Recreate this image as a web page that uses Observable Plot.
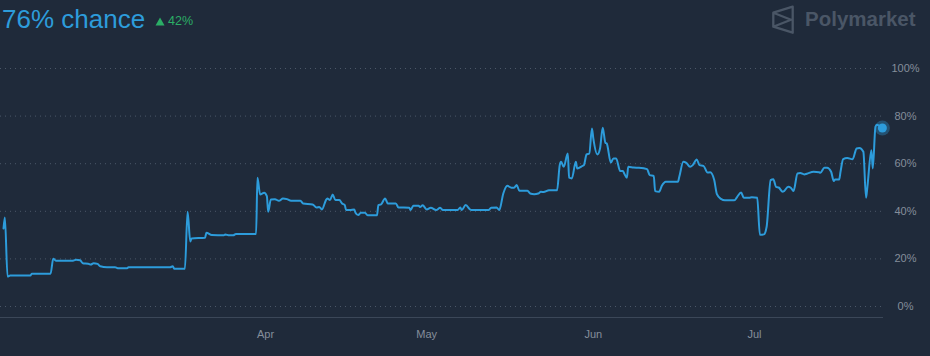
<!DOCTYPE html>
<html>
<head>
<meta charset="utf-8">
<script src="https://cdn.jsdelivr.net/npm/d3@7"></script>
<script src="https://cdn.jsdelivr.net/npm/@observablehq/plot@0.6"></script>
<style>
  html, body { margin: 0; padding: 0; background: #1f2a3a; }
  body { width: 930px; height: 356px; overflow: hidden; font-family: "Liberation Sans", Arial, sans-serif; }
  #header { position: relative; width: 930px; height: 44px; }
  #title { position: absolute; left: 2px; top: 6px; font-size: 26px; line-height: 26px; color: #2d9cdb; white-space: nowrap; }
  #change { position: absolute; left: 155px; top: 14px; font-size: 12.5px; line-height: 14px; color: #2bae66; white-space: nowrap; display: flex; align-items: center; gap: 3px; }
  #logo { position: absolute; left: 770px; top: 4px; width: 30px; height: 32px; }
  #logoText { position: absolute; left: 805px; top: 8px; font-size: 20.5px; line-height: 22px; font-weight: bold; color: #4a5666; white-space: nowrap; }
</style>
</head>
<body>
<div id="header">
  <div id="title"></div>
  <div id="change"><svg width="10" height="9" viewBox="0 0 10 9"><polygon points="5,0.5 9.5,8.5 0.5,8.5" fill="#2bae66"/></svg><span id="changeText"></span></div>
  <svg id="logo" width="30" height="32" viewBox="0 0 30 32">
    <path d="M22.7 2.7 L3.3 8.7 L3.3 22.7 L22.7 28.7 Z M3.3 8.7 L21 15.7 L3.3 22.7" fill="none" stroke="#4a5666" stroke-width="2.3" stroke-linejoin="round"/>
  </svg>
  <div id="logoText"></div>
</div>
<div id="chart"></div>
<script>
const titleText = "76% chance";
const changeText = "42%";
const brandText = "Polymarket";

const dates = [
"2024-02-12T06","2024-02-12T12","2024-02-13T00","2024-02-13T12","2024-02-17T06","2024-02-17T12","2024-02-21T00","2024-02-21T12","2024-02-22T00","2024-02-25T00",
"2024-02-25T18","2024-02-26T12","2024-02-27T00","2024-02-28T00","2024-02-28T12","2024-02-29T00","2024-02-29T18","2024-03-01T06","2024-03-02T12","2024-03-04T00",
"2024-03-04T12","2024-03-06T06","2024-03-06T12","2024-03-14T06","2024-03-14T18","2024-03-15T00","2024-03-17T00","2024-03-17T12","2024-03-18T00","2024-03-18T06",
"2024-03-20T18","2024-03-21T00","2024-03-22T00","2024-03-24T06","2024-03-24T12","2024-03-25T06","2024-03-26T00","2024-03-26T12","2024-03-30T06","2024-03-30T12",
"2024-03-31T00","2024-03-31T18","2024-04-01T06","2024-04-01T12","2024-04-02T00","2024-04-02T18","2024-04-03T12","2024-04-04T06","2024-04-05T00","2024-04-05T18",
"2024-04-07T12","2024-04-08T00","2024-04-09T18","2024-04-10T12","2024-04-11T00","2024-04-11T12","2024-04-12T06","2024-04-12T12","2024-04-13T00","2024-04-13T12",
"2024-04-14T00","2024-04-14T18","2024-04-15T06","2024-04-15T18","2024-04-16T00","2024-04-16T18","2024-04-17T12","2024-04-17T18","2024-04-18T06","2024-04-18T18",
"2024-04-19T12","2024-04-20T00","2024-04-21T18","2024-04-22T00","2024-04-22T12","2024-04-23T06","2024-04-23T18","2024-04-25T06","2024-04-25T18","2024-04-27T18",
"2024-04-28T00","2024-04-28T12","2024-04-29T12","2024-04-29T18","2024-04-30T06","2024-05-01T00","2024-05-01T18","2024-05-02T18","2024-05-03T12","2024-05-04T00",
"2024-05-06T18","2024-05-07T06","2024-05-07T12","2024-05-08T06","2024-05-09T06","2024-05-12T12","2024-05-13T00","2024-05-14T00","2024-05-14T12","2024-05-15T06",
"2024-05-16T00","2024-05-16T18","2024-05-17T06","2024-05-17T18","2024-05-18T06","2024-05-19T18","2024-05-20T06","2024-05-21T00","2024-05-21T18","2024-05-22T06",
"2024-05-22T18","2024-05-23T18","2024-05-25T06","2024-05-25T18","2024-05-26T00","2024-05-26T12","2024-05-27T06","2024-05-27T12","2024-05-28T00","2024-05-28T18",
"2024-05-29T00","2024-05-30T00","2024-05-30T06","2024-05-30T18","2024-05-31T06","2024-05-31T18","2024-06-01T00","2024-06-01T18","2024-06-02T06","2024-06-02T18",
"2024-06-03T06","2024-06-03T12","2024-06-04T06","2024-06-04T18","2024-06-05T06","2024-06-06T00","2024-06-06T12","2024-06-06T18","2024-06-07T06","2024-06-07T12",
"2024-06-08T12","2024-06-09T12","2024-06-11T00","2024-06-11T12","2024-06-12T06","2024-06-12T12","2024-06-13T06","2024-06-13T18","2024-06-14T12","2024-06-16T18",
"2024-06-17T00","2024-06-17T18","2024-06-18T06","2024-06-19T00","2024-06-19T12","2024-06-20T06","2024-06-20T18","2024-06-21T12","2024-06-22T06","2024-06-22T18",
"2024-06-23T12","2024-06-24T00","2024-06-24T18","2024-06-25T12","2024-06-27T06","2024-06-27T18","2024-06-28T12","2024-06-29T00","2024-06-30T00","2024-06-30T12",
"2024-07-01T12","2024-07-02T00","2024-07-02T18","2024-07-03T06","2024-07-04T00","2024-07-04T12","2024-07-05T00","2024-07-05T12","2024-07-06T06","2024-07-06T12",
"2024-07-07T06","2024-07-07T18","2024-07-08T06","2024-07-09T00","2024-07-09T12","2024-07-10T06","2024-07-10T18","2024-07-12T00","2024-07-13T00","2024-07-13T06",
"2024-07-14T00","2024-07-14T12","2024-07-15T06","2024-07-15T18","2024-07-16T00","2024-07-16T18","2024-07-17T00","2024-07-17T12","2024-07-18T06","2024-07-19T06",
"2024-07-20T00","2024-07-20T12","2024-07-21T06","2024-07-21T18","2024-07-22T00","2024-07-22T18","2024-07-23T00","2024-07-23T12","2024-07-23T18","2024-07-24T19"
];

const values = [
32.8,37.4,12.6,13.0,13.0,13.8,13.8,20.1,19.2,19.2,
19.6,19.4,18.2,18.0,17.6,18.2,17.9,16.9,16.5,16.5,
16.1,16.1,16.5,16.5,16.9,15.9,15.9,39.8,27.3,28.6,
28.9,31.0,30.0,29.9,30.3,29.9,29.9,30.5,30.5,54.1,
47.1,47.8,46.4,39.8,45.0,45.1,44.4,45.4,45.1,44.4,
44.4,43.3,42.9,41.6,41.8,40.8,44.7,45.4,44.7,47.1,
44.7,44.7,43.3,42.6,40.5,40.5,40.8,39.4,38.4,39.4,
39.4,38.3,38.3,42.6,42.9,45.4,43.3,43.3,41.6,41.5,
40.5,42.3,42.3,41.8,42.5,40.8,41.5,40.5,41.5,40.5,
40.5,41.6,40.5,42.6,40.5,40.5,41.5,41.6,40.5,47.5,
50.7,49.9,49.9,51.0,48.6,48.6,47.5,47.2,47.5,48.2,
48.1,48.8,48.8,59.4,60.8,58.7,64.3,54.1,53.8,60.8,
58.0,59.1,59.4,63.9,64.3,74.8,70.6,63.9,66.4,75.1,
68.8,68.5,60.5,62.2,62.2,56.9,56.9,55.9,54.1,58.7,
58.4,58.3,57.7,55.2,54.9,48.5,48.2,50.7,52.4,52.4,
54.5,60.8,60.5,58.7,59.4,61.8,59.4,59.1,56.3,56.4,
53.1,47.2,45.2,44.6,44.6,46.0,47.9,45.7,45.7,45.9,
45.7,30.1,30.3,33.5,53.1,53.5,50.3,50.0,48.2,48.5,
50.3,49.9,48.5,55.9,56.1,55.5,55.8,56.6,56.4,56.2,
58.3,58.3,56.6,52.7,53.4,53.4,56.6,61.9,62.4,61.9,
66.4,66.6,65.0,45.7,50.3,65.7,58.0,75.5,76.4,75.0
];

const yTicks = [0, 20, 40, 60, 80, 100];
const xTickDates = ["2024-04-01", "2024-05-01", "2024-06-01", "2024-07-01"];
const xTickLabels = ["Apr", "May", "Jun", "Jul"];

document.getElementById("title").textContent = titleText;
document.getElementById("changeText").textContent = changeText;
document.getElementById("logoText").textContent = brandText;

const data = dates.map((d, i) => ({date: new Date(d + ":00Z"), value: values[i]}));
const last = data[data.length - 1];
const xTicks = xTickDates.map(d => new Date(d + "T00:00Z"));

const lineColor = "#2d9cdb";

const chart = Plot.plot({
  width: 930,
  height: 312,
  marginLeft: 0,
  marginRight: 48,
  marginTop: 24,
  marginBottom: 39,
  style: {background: "transparent", color: "#858e9a", fontFamily: "'Liberation Sans', Arial, sans-serif", fontSize: "11px"},
  x: {type: "utc", domain: [new Date("2024-02-11T16:30Z"), new Date("2024-07-24T19:30Z")]},
  y: {domain: [0, 100], insetBottom: 11},
  marks: [
    Plot.gridY(yTicks, {stroke: "#4b5768", strokeOpacity: 1, strokeDasharray: "1,4"}),
    Plot.frame({anchor: "bottom", stroke: "#3b4758"}),
    Plot.axisX(xTicks, {label: null, tickSize: 0, tickPadding: 13, tickFormat: d => xTickLabels[xTicks.findIndex(t => +t === +d)]}),
    Plot.axisY(yTicks, {anchor: "right", label: null, tickSize: 0, tickPadding: 23, textAnchor: "middle", tickFormat: d => d + "%"}),
    Plot.line(data, {x: "date", y: "value", stroke: lineColor, strokeWidth: 2, curve: "monotone-x"}),
    Plot.dot([last], {x: "date", y: "value", r: 7.5, fill: lineColor, fillOpacity: 0.35}),
    Plot.dot([last], {x: "date", y: "value", r: 4.5, fill: lineColor})
  ]
});
document.getElementById("chart").appendChild(chart);
</script>
</body>
</html>
